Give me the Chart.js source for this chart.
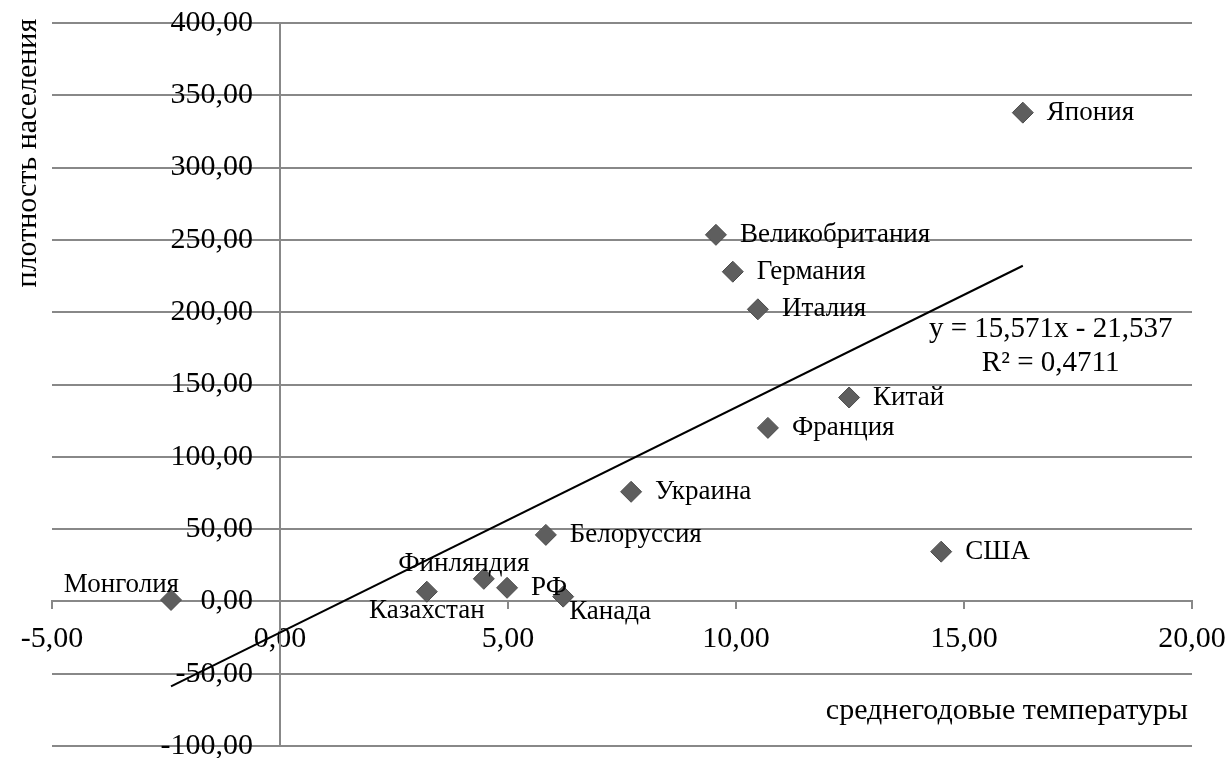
<!DOCTYPE html>
<html lang="ru">
<head>
<meta charset="utf-8">
<title>плотность населения / среднегодовые температуры</title>
<script src="https://cdn.jsdelivr.net/npm/chart.js@4/dist/chart.umd.min.js"></script>
<style>
  html, body { margin: 0; padding: 0; background: #fff; }
  #wrap { width: 1227px; height: 758px; }
</style>
</head>
<body>
<div id="wrap"><canvas id="chartScatter" width="1227" height="758"></canvas></div>
<script>
// ==================== Dados ====================
const countries = ['Монголия', 'Казахстан', 'Финляндия', 'РФ', 'Канада', 'Белоруссия', 'Украина',
  'Великобритания', 'Германия', 'Италия', 'Франция', 'Китай', 'США', 'Япония'];
const temps = [-2.39, 3.22, 4.47, 4.98, 6.21, 5.83, 7.70, 9.56, 9.93, 10.48, 10.70, 12.48, 14.50, 16.29];
const density = [1, 6.7, 15.6, 9.4, 3.3, 46, 75.8, 253.5, 228, 202, 120, 141, 34.4, 338];

// trend line (as printed on the chart)
const trendSlope = 15.571;
const trendIntercept = -21.537;
const trendText = ['y = 15,571x - 21,537', 'R² = 0,4711'];

const xTitle = 'среднегодовые температуры';
const yTitle = 'плотность населения';

// ==================== Estilo ====================
const FONT = 'Liberation Serif, Times New Roman, serif';
const GRID = '#888888';

// where each label sits relative to its marker
const labelPos = {
  'Монголия': { dx: 8, dy: -15, align: 'right' },
  'Казахстан': { dx: 0, dy: 19, align: 'center' },
  'Финляндия': { dx: -20, dy: -15, align: 'center' },
  'Канада': { dx: 6, dy: 15, align: 'left' }
};

function fmt(v) {
  return Number(v).toFixed(2).replace('.', ',');
}

// positional axes should not eat into the plot area
function noPadding(scale) {
  scale.paddingLeft = 0;
  scale.paddingRight = 0;
  scale.paddingTop = 0;
  scale.paddingBottom = 0;
}

// ==================== Plugins ====================
const pointLabels = {
  id: 'pointLabels',
  afterDatasetsDraw(chart) {
    const ctx = chart.ctx;
    const meta = chart.getDatasetMeta(0);
    ctx.save();
    ctx.font = `27px ${FONT}`;
    ctx.fillStyle = '#000';
    ctx.textBaseline = 'middle';
    meta.data.forEach((pt, i) => {
      const p = labelPos[countries[i]] || { dx: 24, dy: 0, align: 'left' };
      ctx.textAlign = p.align;
      ctx.fillText(countries[i], pt.x + p.dx, pt.y + p.dy);
    });
    ctx.restore();
  }
};

const extraText = {
  id: 'extraText',
  afterDraw(chart) {
    const ctx = chart.ctx;
    const xs = chart.scales.x, ys = chart.scales.y;
    ctx.save();
    ctx.fillStyle = '#000';
    ctx.textBaseline = 'middle';

    // y tick labels, left of the y axis
    ctx.font = `30px ${FONT}`;
    ctx.textAlign = 'right';
    const axisX = xs.getPixelForValue(0);
    ys.ticks.forEach(t => ctx.fillText(fmt(t.value), axisX - 27, ys.getPixelForValue(t.value)));

    // equation of the trend line
    ctx.font = `29px ${FONT}`;
    ctx.textAlign = 'center';
    const ex = xs.getPixelForValue(16.9), ey = ys.getPixelForValue(188);
    ctx.fillText(trendText[0], ex, ey);
    ctx.fillText(trendText[1], ex, ey + 34);

    // axis titles
    ctx.font = `30px ${FONT}`;
    ctx.textAlign = 'right';
    ctx.fillText(xTitle, chart.chartArea.right - 4, ys.getPixelForValue(-76));

    ctx.translate(28, ys.getPixelForValue(310));
    ctx.rotate(-Math.PI / 2);
    ctx.textAlign = 'center';
    ctx.fillText(yTitle, 0, 0);
    ctx.restore();
  }
};

// ==================== Chart ====================
const points = temps.map((t, i) => ({ x: t, y: density[i] }));
const xMin = Math.min(...temps), xMax = Math.max(...temps);
const trend = [xMin, xMax].map(x => ({ x, y: trendSlope * x + trendIntercept }));

new Chart(document.getElementById('chartScatter').getContext('2d'), {
  type: 'scatter',
  data: {
    datasets: [
      { label: 'страны', data: points, pointStyle: 'rectRot', pointRadius: 10.5, pointHoverRadius: 10.5,
        backgroundColor: '#5e5e5e', borderColor: '#4b4b4b', borderWidth: 1 },
      { type: 'line', label: 'тренд', data: trend, borderColor: '#000', borderWidth: 2,
        pointRadius: 0, fill: false, tension: 0 }
    ]
  },
  options: {
    responsive: false,
    animation: false,
    layout: { padding: { left: 52, right: 35, top: 23, bottom: 12 } },
    plugins: { legend: { display: false }, tooltip: { enabled: false } },
    scales: {
      x: {
        type: 'linear', min: -5, max: 20, position: { y: 0 }, afterFit: noPadding,
        ticks: { stepSize: 5, color: '#000', font: { family: FONT, size: 30 }, padding: 13, callback: fmt },
        grid: { drawOnChartArea: false, drawTicks: true, tickLength: 7, color: GRID, lineWidth: 2 },
        border: { display: true, color: GRID, width: 2 }
      },
      y: {
        type: 'linear', min: -100, max: 400, position: { x: 0 }, afterFit: noPadding,
        ticks: { stepSize: 50, display: false },
        grid: { drawOnChartArea: true, drawTicks: true, tickLength: 7, color: GRID, lineWidth: 2 },
        border: { display: true, color: GRID, width: 2 }
      }
    }
  },
  plugins: [pointLabels, extraText]
});
</script>
</body>
</html>
